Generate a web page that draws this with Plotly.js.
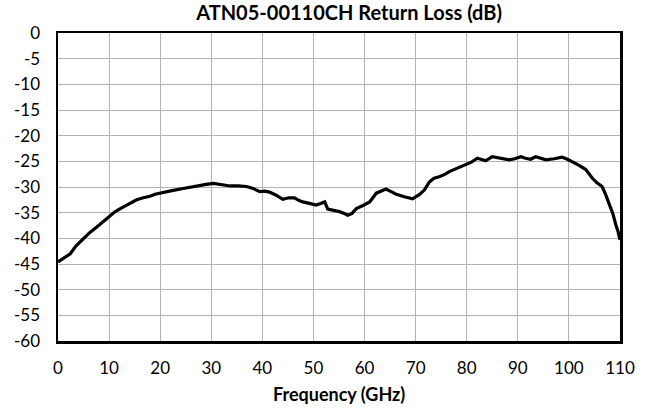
<!DOCTYPE html>
<html>
<head>
<meta charset="utf-8">
<script src="https://cdn.plot.ly/plotly-3.0.1.min.js"></script>
<style>html,body{margin:0;padding:0;background:#fff;}#chart{width:655px;height:410px;}</style>
</head>
<body>
<div id="chart"></div>
<script>
const freqGHz = [0, 1, 2.4, 3.5, 5, 6.3, 7.6, 9, 10.2, 11.2, 12.2, 13.8, 15.4, 16.7, 18, 19, 20.2, 22.3, 24.5, 26, 27.8, 29, 30.4, 32, 33.7, 35.3, 36.9, 38.2, 39.5, 40.5, 41.4, 42.7, 44, 45.2, 46.3, 47.1, 47.9, 49.2, 50.5, 51.4, 52.2, 52.8, 53.9, 55.1, 55.9, 56.7, 57.5, 58.4, 59.7, 61, 62.3, 63.2, 64.2, 65.2, 66.2, 67.8, 69.4, 70.7, 71.7, 72.7, 73.6, 74.6, 75.6, 76.6, 78.2, 79.8, 81, 82.1, 83.7, 85, 86.6, 88.3, 89.4, 90.6, 91.5, 92.5, 93.5, 94.5, 95.5, 97.1, 98.7, 99.7, 100.7, 102, 103.3, 104.6, 105.5, 106.5, 107.2, 107.9, 108.6, 109.2, 109.6, 110];
const returnLossDB = [-44.6, -44, -43, -41.5, -40, -38.8, -37.8, -36.6, -35.5, -34.8, -34.2, -33.3, -32.5, -32.1, -31.8, -31.4, -31.1, -30.7, -30.3, -30, -29.6, -29.5, -29.3, -29.5, -29.8, -29.8, -29.9, -30.3, -30.9, -30.8, -31, -31.6, -32.4, -32.1, -32.1, -32.6, -32.9, -33.2, -33.5, -33.2, -32.9, -34.3, -34.5, -34.8, -35.1, -35.5, -35.2, -34.2, -33.6, -32.9, -31.2, -30.8, -30.4, -30.9, -31.4, -31.9, -32.3, -31.5, -30.6, -29, -28.3, -28, -27.6, -27, -26.3, -25.6, -25.1, -24.4, -24.9, -24.1, -24.4, -24.7, -24.5, -24.1, -24.4, -24.6, -24.1, -24.4, -24.7, -24.5, -24.2, -24.6, -25.1, -25.8, -26.6, -28.3, -29.2, -29.9, -31.5, -33.2, -35.2, -37.4, -38.6, -40.3];
const xTickVals = [0, 10, 20, 30, 40, 50, 60, 70, 80, 90, 100, 110];
const yTickVals = [0, -5, -10, -15, -20, -25, -30, -35, -40, -45, -50, -55, -60];
const chartTitle = 'ATN05-00110CH Return Loss (dB)';
const xTitle = 'Frequency (GHz)';

const FONT = 'Lato, "Open Sans", sans-serif';
Plotly.newPlot('chart', [{
  x: freqGHz,
  y: returnLossDB,
  type: 'scatter',
  mode: 'lines',
  line: {color: '#000000', width: 3.2},
  hoverinfo: 'skip'
}], {
  width: 655, height: 410,
  margin: {l: 57.5, r: 34.5, t: 33, b: 69, pad: 0},
  paper_bgcolor: '#ffffff', plot_bgcolor: '#ffffff',
  showlegend: false,
  font: {family: FONT, color: '#000000', size: 17},
  title: {text: '<b>' + chartTitle + '</b>', font: {family: FONT, size: 20, color: '#000'},
          x: 0.518, xanchor: 'center', xref: 'paper', yref: 'container', y: 0.968, yanchor: 'middle'},
  annotations: [{
    text: '<b>' + xTitle + '</b>', xref: 'paper', yref: 'paper', x: 0.5, y: -0.172,
    xanchor: 'center', yanchor: 'middle', showarrow: false,
    font: {family: FONT, size: 18, color: '#000'}
  }],
  xaxis: {
    range: [0, 110], tickvals: xTickVals, ticktext: xTickVals.map(String),
    showgrid: true, gridcolor: '#b3b3b3', gridwidth: 1,
    showline: true, linecolor: '#000', linewidth: 2.5, mirror: true,
    ticks: '', zeroline: false, ticklabelstandoff: 10,
    tickfont: {family: FONT, size: 17, color: '#000'}
  },
  yaxis: {
    range: [-60, 0], tickvals: yTickVals, ticktext: yTickVals.map(String),
    showgrid: true, gridcolor: '#b3b3b3', gridwidth: 1,
    showline: true, linecolor: '#000', linewidth: 2.5, mirror: true,
    ticks: '', zeroline: false, ticklabelstandoff: 12,
    tickfont: {family: FONT, size: 17, color: '#000'}
  }
}, {staticPlot: true, displayModeBar: false});
</script>
</body>
</html>
